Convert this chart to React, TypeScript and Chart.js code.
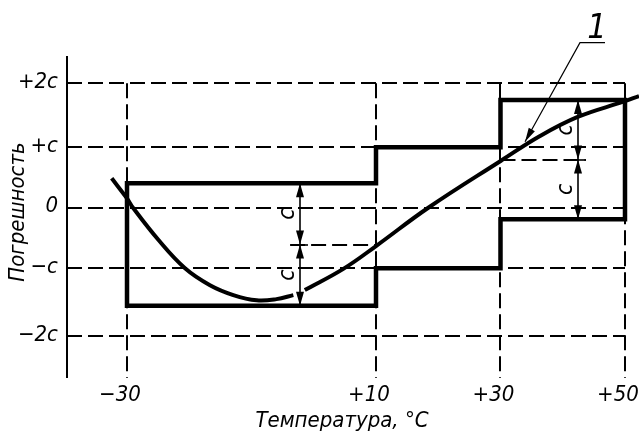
import React, { useEffect, useRef } from "react";
import { Chart, registerables } from "chart.js";
Chart.register(...registerables);

// Axis ticks (temperature, °C) and error levels (in units of c)
const xTickValues = [-30, 10, 30, 50];
const xTickLabels = ["\u221230", "+10", "+30", "+50"];
const yTickValues = [2.055, 1, 0, -1, -2.116];
const yTickLabels = ["+2c", "+c", "0", "\u2212c", "\u22122c"];

// Curve 1 (error vs temperature); null = break in the line
const curveT = [-32.46, -30, -29.04, -24.97, -20.68, -16.67, -12.92, -9.16, -6.0, -3.28, -2.3, -1.44, 4.75, 10, 18.4, 30.08, 36.35, 42.5, 49.73, 52.25];
const curveErr = [0.486, 0.155, 0, -0.53, -1.0, -1.28, -1.443, -1.53, -1.51, -1.443, null, -1.36, -1.01, -0.633, 0, 0.777, 1.185, 1.504, 1.752, 1.846];

// Permissible error envelope (stepped band)
const envelopeT = [-30, -30, 10, 10, 30, 30, 50, 50, 30, 30, 10, 10, -30];
const envelopeErr = [-1.62, 0.403, 0.403, 1, 1, 1.78, 1.78, -0.19, -0.19, -1, -1, -1.62, -1.62];

// Dimension markers "c"
const dimT = [-2.21, 42.5];
const dimTop = [0.403, 1.78];
const dimBottom = [-1.62, -0.19];
const dimDashFrom = [-3.8, 30];
const dimDashTo = [10, 43.7];

// Leader "1"
const leaderTip = { t: 33.94, e: 1.09 };
const leaderElbow = { t: 42.77, e: 2.727 };
const leaderEnd = { t: 46.79, e: 2.727 };
const leaderLabel = { t: 45.5, e: 2.805, text: "1" };

const FONT = '"DejaVu Sans Condensed", "DejaVu Sans", sans-serif';

function arrowHead(ctx: CanvasRenderingContext2D, x: number, y: number, fromX: number, fromY: number, len: number, half: number) {
  const a = Math.atan2(y - fromY, x - fromX);
  ctx.beginPath();
  ctx.moveTo(x, y);
  ctx.lineTo(x - len * Math.cos(a) + half * Math.sin(a), y - len * Math.sin(a) - half * Math.cos(a));
  ctx.lineTo(x - len * Math.cos(a) - half * Math.sin(a), y - len * Math.sin(a) + half * Math.cos(a));
  ctx.closePath();
  ctx.fill();
}

const drawPlugin = {
  id: "techDrawing",
  beforeDatasetsDraw(chart: any) {
    const ctx = chart.ctx as CanvasRenderingContext2D;
    const xs = chart.scales.x;
    const ys = chart.scales.y;
    const area = chart.chartArea;
    ctx.save();
    ctx.strokeStyle = "#000";
    ctx.lineWidth = 2;
    ctx.setLineDash([15, 6]);
    const xEnd = xs.getPixelForValue(50);
    yTickValues.forEach((v) => {
      const py = Math.round(ys.getPixelForValue(v));
      ctx.beginPath();
      ctx.moveTo(area.left, py);
      ctx.lineTo(xEnd, py);
      ctx.stroke();
    });
    const yTop = ys.getPixelForValue(yTickValues[0]);
    xTickValues.forEach((v) => {
      const px = Math.round(xs.getPixelForValue(v));
      ctx.beginPath();
      ctx.moveTo(px, yTop);
      ctx.lineTo(px, area.bottom);
      ctx.stroke();
    });
    ctx.setLineDash([]);
    // y axis line
    ctx.beginPath();
    ctx.moveTo(area.left, area.top);
    ctx.lineTo(area.left, area.bottom);
    ctx.stroke();

    // dimension mid dashed lines
    ctx.lineWidth = 2;
    ctx.setLineDash([15, 6]);
    dimT.forEach((t, i) => {
      const mid = (dimTop[i] + dimBottom[i]) / 2;
      const py = Math.round(ys.getPixelForValue(mid));
      ctx.beginPath();
      ctx.moveTo(xs.getPixelForValue(dimDashFrom[i]), py);
      ctx.lineTo(xs.getPixelForValue(dimDashTo[i]), py);
      ctx.stroke();
    });
    ctx.restore();
  },
  afterDatasetsDraw(chart: any) {
    const ctx = chart.ctx as CanvasRenderingContext2D;
    const xs = chart.scales.x;
    const ys = chart.scales.y;
    const area = chart.chartArea;
    ctx.save();
    ctx.fillStyle = "#000";
    ctx.strokeStyle = "#000";

    // dimension arrows
    dimT.forEach((t, i) => {
      const px = Math.round(xs.getPixelForValue(t));
      const yT = ys.getPixelForValue(dimTop[i]);
      const yB = ys.getPixelForValue(dimBottom[i]);
      const yM = (yT + yB) / 2;
      ctx.lineWidth = 1.6;
      ctx.beginPath();
      ctx.moveTo(px, yT);
      ctx.lineTo(px, yB);
      ctx.stroke();
      ctx.beginPath();
      ctx.moveTo(px - 9, Math.round(yM));
      ctx.lineTo(px + 8, Math.round(yM));
      ctx.stroke();
      arrowHead(ctx, px, yT, px, yT + 20, 14, 4);
      arrowHead(ctx, px, yM, px, yM - 20, 14, 4);
      arrowHead(ctx, px, yM, px, yM + 20, 14, 4);
      arrowHead(ctx, px, yB, px, yB - 20, 14, 4);
      // "c" labels
      ctx.font = `italic 23px ${FONT}`;
      ctx.textAlign = "center";
      ctx.textBaseline = "middle";
      [(yT + yM) / 2, (yM + yB) / 2].forEach((cy) => {
        ctx.save();
        ctx.translate(px - 12, cy);
        ctx.rotate(-Math.PI / 2);
        ctx.fillText("c", 0, 0);
        ctx.restore();
      });
    });

    // leader "1"
    const tx = xs.getPixelForValue(leaderTip.t);
    const ty = ys.getPixelForValue(leaderTip.e);
    const ex = xs.getPixelForValue(leaderElbow.t);
    const ey = ys.getPixelForValue(leaderElbow.e);
    ctx.lineWidth = 1.2;
    ctx.beginPath();
    ctx.moveTo(xs.getPixelForValue(leaderEnd.t), ys.getPixelForValue(leaderEnd.e));
    ctx.lineTo(ex, ey);
    ctx.lineTo(tx, ty);
    ctx.stroke();
    arrowHead(ctx, tx, ty, ex, ey, 14, 3.5);
    ctx.font = `italic 34px ${FONT}`;
    ctx.textAlign = "center";
    ctx.textBaseline = "alphabetic";
    ctx.fillText(leaderLabel.text, xs.getPixelForValue(leaderLabel.t), ys.getPixelForValue(leaderLabel.e));

    // tick labels
    ctx.font = `italic 22px ${FONT}`;
    ctx.textAlign = "right";
    ctx.textBaseline = "middle";
    yTickValues.forEach((v, i) => {
      ctx.fillText(yTickLabels[i], area.left - 9, ys.getPixelForValue(v) - 1);
    });
    ctx.textAlign = "center";
    xTickValues.forEach((v, i) => {
      ctx.fillText(xTickLabels[i], xs.getPixelForValue(v) - 7, area.bottom + 17);
    });

    // axis titles
    ctx.font = `italic 22px ${FONT}`;
    ctx.fillText("Температура, °C", 342, area.bottom + 43);
    ctx.save();
    ctx.translate(18, (area.top + area.bottom) / 2 - 5);
    ctx.rotate(-Math.PI / 2);
    ctx.fillText("Погрешность", 0, 0);
    ctx.restore();
    ctx.restore();
  },
};

export default function App() {
  const ref = useRef<HTMLCanvasElement | null>(null);
  useEffect(() => {
    const prevMargin = document.body.style.margin;
    document.body.style.margin = "0";
    const canvas = ref.current!;
    const chart = new Chart(canvas, {
      type: "line",
      data: {
        datasets: [
          {
            data: envelopeT.map((t, i) => ({ x: t, y: envelopeErr[i] })),
            borderColor: "#000",
            borderWidth: 4.5,
            pointRadius: 0,
            tension: 0,
            fill: false,
            borderCapStyle: "square",
            borderJoinStyle: "miter",
          },
          {
            data: curveT.map((t, i) => ({ x: t, y: curveErr[i] as any })),
            borderColor: "#000",
            borderWidth: 4,
            pointRadius: 0,
            tension: 0.4,
            spanGaps: false,
            fill: false,
            borderCapStyle: "butt",
          },
        ],
      },
      options: {
        responsive: false,
        animation: false,
        devicePixelRatio: 1,
        layout: { padding: { left: 67, right: 0, top: 56, bottom: 58 } },
        plugins: { legend: { display: false }, tooltip: { enabled: false } },
        scales: {
          x: { type: "linear", min: -39.64, max: 52.25, display: false },
          y: { type: "linear", min: -2.813, max: 2.507, display: false },
        },
      },
      plugins: [drawPlugin],
    } as any);
    return () => {
      chart.destroy();
      document.body.style.margin = prevMargin;
    };
  }, []);
  return (
    <canvas
      ref={ref}
      width={639}
      height={436}
      style={{ position: "absolute", left: 0, top: 0, width: 639, height: 436, background: "#fff" }}
    />
  );
}
